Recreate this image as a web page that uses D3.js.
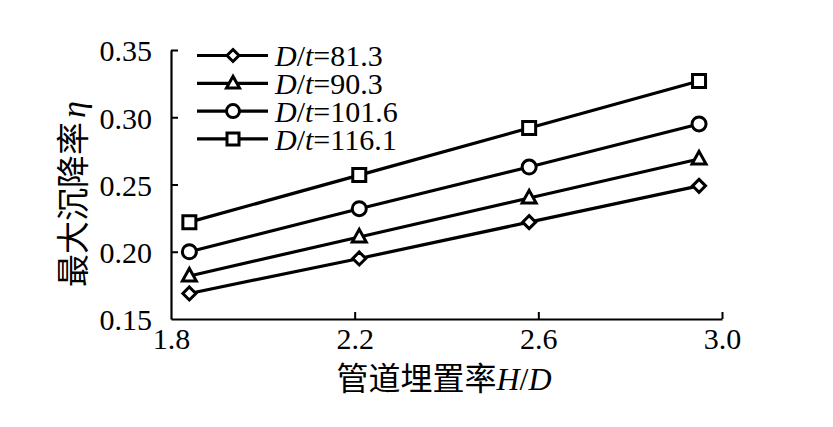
<!DOCTYPE html>
<html><head><meta charset="utf-8">
<script src="https://cdn.jsdelivr.net/npm/d3@7"></script>
<style>
html,body{margin:0;padding:0;background:#fff;}
svg{display:block;}
.serif{font-family:"Liberation Serif","Times New Roman",Times,"DejaVu Serif",serif;}
</style></head>
<body>
<svg id="chart" width="833" height="427"></svg>
<script>
const hd = [1.84, 2.21, 2.58, 2.95];
const seriesNames = ["81.3", "90.3", "101.6", "116.1"];
const seriesSymbols = ["diamond", "triangle", "circle", "square"];
const values = [
  [0.169, 0.195, 0.222, 0.249],
  [0.182, 0.211, 0.240, 0.269],
  [0.200, 0.232, 0.263, 0.295],
  [0.222, 0.257, 0.292, 0.327]
];
const xTicks = [1.8, 2.2, 2.6, 3.0];
const yTicks = [0.15, 0.20, 0.25, 0.30, 0.35];

const svg = d3.select("#chart");
const cjk = "'Noto Sans CJK SC','Noto Sans',sans-serif";

const x = d3.scaleLinear().domain([1.8, 3.0]).range([171, 722]);
const y = d3.scaleLinear().domain([0.15, 0.35]).range([319, 50]);

// axes
const xAxis = svg.append("g").attr("transform", `translate(0,${y(0.15)})`)
  .call(d3.axisBottom(x).tickValues(xTicks).tickSizeInner(-7).tickSizeOuter(0).tickPadding(8).tickFormat(d3.format(".1f")));
const yAxis = svg.append("g").attr("transform", `translate(${x(1.8)},0)`)
  .call(d3.axisLeft(y).tickValues(yTicks).tickSizeInner(-7).tickSizeOuter(0).tickPadding(19).tickFormat(d3.format(".2f")));
[xAxis, yAxis].forEach(g => {
  g.attr("font-family", null).attr("font-size", null).classed("serif", true);
  g.selectAll(".domain").attr("stroke", "#000").attr("stroke-width", 2.2);
  g.selectAll(".tick line").attr("stroke", "#000").attr("stroke-width", 2);
  g.selectAll(".tick text").attr("fill", "#000").style("font-size", "30px");
});
xAxis.selectAll(".tick").filter(d => d === 1.8).select("line").remove();
yAxis.selectAll(".tick").filter(d => d === 0.15).select("line").remove();
xAxis.selectAll(".tick text").attr("dy", "0.72em");
yAxis.selectAll(".tick text").attr("dy", "0.36em");

// symbol shapes
function symPath(name, size) {
  const s = size;
  if (name === "square") return d3.symbol().type(d3.symbolSquare).size(s * s)();
  if (name === "circle") return d3.symbol().type(d3.symbolCircle).size(Math.PI * (s / 2) * (s / 2))();
  if (name === "triangle") {
    const h = s * 0.9;
    return `M0,${-h * 0.6}L${s / 2},${h * 0.4}L${-s / 2},${h * 0.4}Z`;
  }
  const r = s / 2;
  return `M0,${-r}L${r},0L0,${r}L${-r},0Z`;
}
const sizes = {square: 13, circle: 14, triangle: 14, diamond: 13};

const line = d3.line().x((d, i) => x(hd[i])).y(d => y(d));
values.forEach((vals, si) => {
  svg.append("path").attr("d", line(vals)).attr("fill", "none")
    .attr("stroke", "#000").attr("stroke-width", 3.2);
  svg.selectAll(null).data(vals).enter().append("path")
    .attr("transform", (d, i) => `translate(${x(hd[i])},${y(d)})`)
    .attr("d", symPath(seriesSymbols[si], sizes[seriesSymbols[si]]))
    .attr("fill", "#fff").attr("stroke", "#000").attr("stroke-width", 3);
});

// legend
const leg = svg.append("g");
seriesNames.forEach((nm, i) => {
  const ly = 55.5 + i * 27.8;
  leg.append("line").attr("x1", 197).attr("x2", 268).attr("y1", ly).attr("y2", ly)
    .attr("stroke", "#000").attr("stroke-width", 3.2);
  leg.append("path").attr("transform", `translate(233,${ly})`)
    .attr("d", symPath(seriesSymbols[i], sizes[seriesSymbols[i]] - 1))
    .attr("fill", "#fff").attr("stroke", "#000").attr("stroke-width", 3);
  const t = leg.append("text").attr("class", "serif").attr("x", 275).attr("y", ly).attr("dy", "0.36em")
    .style("font-size", "30px").attr("fill", "#000");
  t.append("tspan").style("font-style", "italic").text("D");
  t.append("tspan").text("/");
  t.append("tspan").style("font-style", "italic").text("t");
  t.append("tspan").text("=" + nm);
});

// axis titles
const xt = svg.append("text").attr("x", 444).attr("y", 390).attr("text-anchor", "middle").attr("fill", "#000");
xt.append("tspan").style("font-family", cjk).style("font-size", "32px").text("管道埋置率");
xt.append("tspan").attr("class", "serif").style("font-size", "32px").style("font-style", "italic").text("H");
xt.append("tspan").attr("class", "serif").style("font-size", "32px").text("/");
xt.append("tspan").attr("class", "serif").style("font-size", "32px").style("font-style", "italic").text("D");

const yt = svg.append("text").attr("transform", "translate(85,194) rotate(-90)")
  .attr("text-anchor", "middle").attr("fill", "#000");
yt.append("tspan").style("font-family", cjk).style("font-size", "33px").text("最大沉降率");
yt.append("tspan").attr("class", "serif").attr("dx", 4).style("font-size", "34px").style("font-style", "italic").text("η");
</script>
</body></html>
